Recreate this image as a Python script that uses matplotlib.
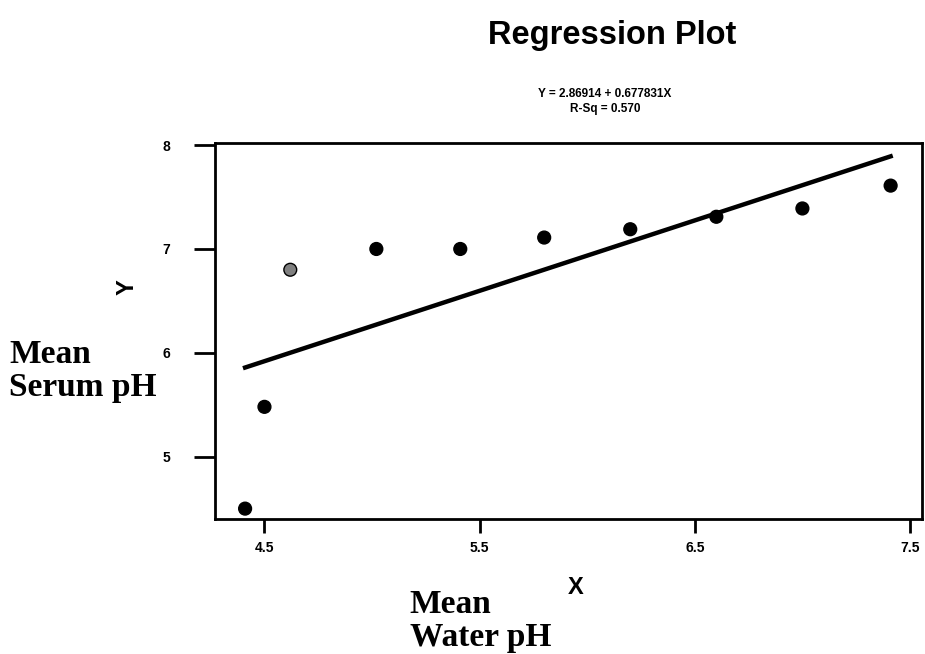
import numpy as np
import matplotlib
matplotlib.use("Agg")
import matplotlib.pyplot as plt

# data
water_ph = [4.41, 4.50, 4.62, 5.02, 5.41, 5.80, 6.20, 6.60, 7.00, 7.41]
serum_ph = [4.50, 5.48, 6.80, 7.00, 7.00, 7.11, 7.19, 7.31, 7.39, 7.61]
intercept = 2.86914
slope = 0.677831
r_sq = 0.570
xticks = [4.5, 5.5, 6.5, 7.5]
yticks = [5, 6, 7, 8]

SANS = "Liberation Sans"
SERIF = "Liberation Serif"

fig = plt.figure(figsize=(9.25, 6.54), dpi=100)
ax = fig.add_axes([0.2324, 0.2064, 0.7644, 0.5749])

fc = ["black"] * len(water_ph)
fc[2] = "0.5"
ax.scatter(water_ph, serum_ph, s=85, c=fc, edgecolors="black", linewidths=1, zorder=3)

xl = np.array([min(water_ph), max(water_ph)])
ax.plot(xl, intercept + slope * xl, color="black", lw=3.2, zorder=2)

ax.set_xlim(4.27, 7.556)
ax.set_ylim(4.40, 8.02)
ax.set_xticks(xticks)
ax.set_xticklabels([str(t) for t in xticks])
ax.set_yticks(yticks)
ax.set_yticklabels([str(t) for t in yticks])
ax.tick_params(direction="out", width=2, labelsize=10)
ax.tick_params(axis="x", length=10, pad=6)
ax.tick_params(axis="y", length=15, pad=17)
for lab in ax.get_xticklabels() + ax.get_yticklabels():
    lab.set_fontweight("bold"); lab.set_family(SANS)
for sp in ax.spines.values():
    sp.set_linewidth(2)

# titles and axis labels
fig.text(0.662, 0.945, "Regression Plot", ha="center", va="center",
         fontsize=23.5, fontweight="bold", family=SANS)
fig.text(0.654, 0.856, f"Y = {intercept} + {slope}X", ha="center", va="center",
         fontsize=8.5, fontweight="bold", family=SANS)
fig.text(0.654, 0.834, f"R-Sq = {r_sq:.3f}", ha="center", va="center",
         fontsize=8.5, fontweight="bold", family=SANS)

fig.text(0.137, 0.561, "Y", rotation=90, ha="center", va="center",
         fontsize=17, fontweight="bold", family=SANS)
fig.text(0.01, 0.433, "Mean\nSerum pH", ha="left", va="center",
         fontsize=24, fontweight="bold", family=SERIF, linespacing=1.08)

fig.text(0.622, 0.101, "X", ha="center", va="center",
         fontsize=17, fontweight="bold", family=SANS)
fig.text(0.443, 0.050, "Mean\nWater pH", ha="left", va="center",
         fontsize=24, fontweight="bold", family=SERIF, linespacing=1.08)

fig.savefig("out.png", dpi=100, facecolor="white")
